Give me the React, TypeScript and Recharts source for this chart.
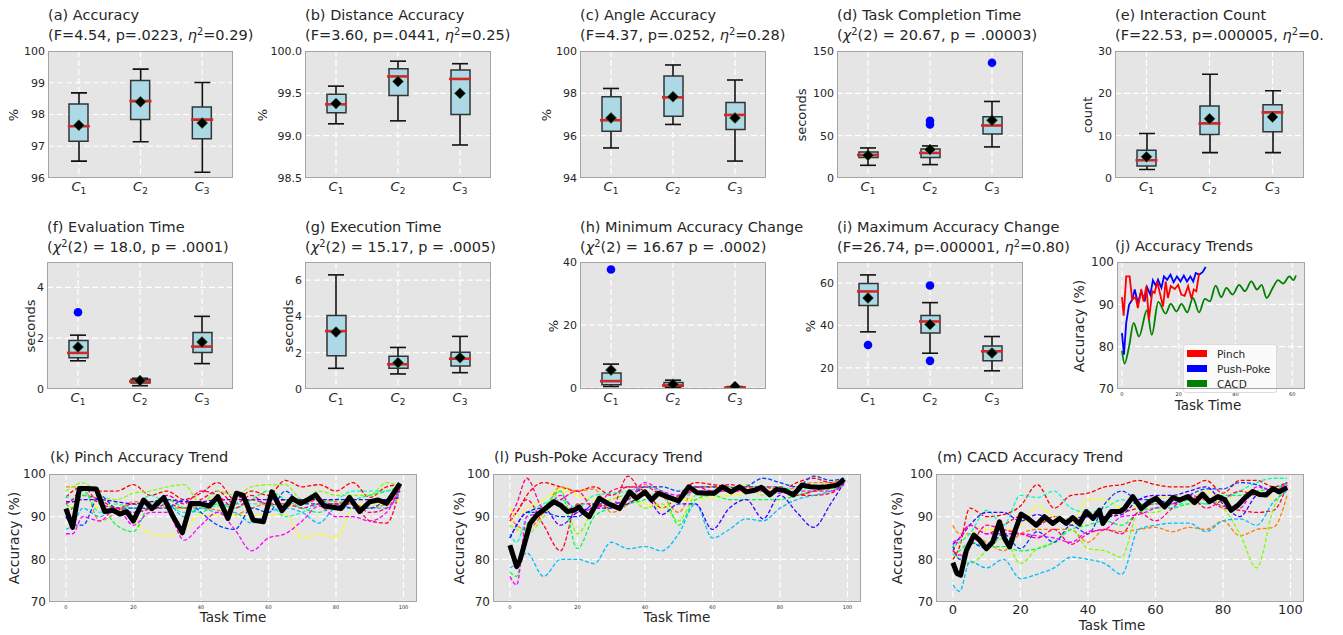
import React from 'react';
import {
  ComposedChart,
  LineChart,
  Line,
  Bar,
  Scatter,
  XAxis,
  YAxis,
  CartesianGrid,
  Legend,
} from 'recharts';

const FONT = '"DejaVu Sans", Verdana, sans-serif';
const INK = '#262626';
const BG = '#e5e5e5';
const EDGE = '#a3a3a3';
const YW = 44;
const PAD = 6;
const XH = 26;

const CATS = ['C1', 'C2', 'C3'];

// [low whisker, q1, median, q3, high whisker, mean] for C1..C3
const accuracyBox = [
  [96.53, 97.16, 97.63, 98.33, 98.68, 97.66],
  [97.14, 97.84, 98.42, 99.07, 99.43, 98.4],
  [96.18, 97.24, 97.84, 98.24, 99.01, 97.73],
];
const distanceBox = [
  [99.14, 99.27, 99.37, 99.49, 99.585, 99.38],
  [99.175, 99.475, 99.7, 99.79, 99.88, 99.64],
  [98.89, 99.25, 99.67, 99.775, 99.85, 99.5],
];
const angleBox = [
  [95.42, 96.21, 96.73, 97.84, 98.23, 96.84],
  [96.53, 96.92, 97.81, 98.82, 99.34, 97.84],
  [94.8, 96.29, 96.98, 97.57, 98.63, 96.84],
];
const taskTimeBox = [
  [15.0, 24.1, 27.2, 30.8, 35.5, 26.8],
  [15.8, 24.1, 29.6, 34.3, 37.9, 33.6],
  [36.7, 52.1, 62.0, 72.2, 90.4, 68.3],
];
const taskTimeOut = [[], [67.5, 63.2], [136.2]];
const interactionBox = [
  [2.0, 2.84, 4.2, 6.55, 10.5, 5.0],
  [6.0, 10.3, 12.9, 17.0, 24.5, 14.0],
  [6.0, 10.9, 15.5, 17.3, 20.6, 14.4],
];
const evalBox = [
  [1.11, 1.23, 1.42, 1.91, 2.12, 1.65],
  [0.13, 0.24, 0.3, 0.38, 0.42, 0.33],
  [1.0, 1.44, 1.67, 2.22, 2.86, 1.85],
];
const evalOut = [[3.02], [], []];
const execBox = [
  [1.14, 1.83, 3.19, 4.05, 6.29, 3.14],
  [0.83, 1.14, 1.36, 1.8, 2.29, 1.45],
  [0.9, 1.27, 1.67, 2.02, 2.9, 1.72],
];
const minChangeBox = [
  [0.5, 1.06, 2.2, 4.8, 7.6, 5.7],
  [0.2, 0.5, 0.85, 1.8, 2.5, 1.2],
  [0.0, 0.0, 0.1, 0.3, 0.45, 0.5],
];
const minChangeOut = [[37.6], [], []];
const maxChangeBox = [
  [37.0, 49.4, 56.1, 59.8, 63.9, 52.97],
  [26.9, 36.4, 41.9, 44.7, 50.8, 40.5],
  [18.6, 23.3, 27.8, 30.3, 34.8, 27.0],
];
const maxChangeOut = [[30.8], [58.9, 23.3], []];

// (j) overall trends
const pinchTrendX = [0, 0.6, 1.5, 2.7, 3.6, 4.8, 5.6, 6.8, 7.6, 8.6, 9.5, 10.7, 11.5, 12.5, 13.3, 14.5, 15.4, 16.2, 17.2, 18.6, 19.8, 20.9, 22.1, 23.3, 24.5, 25.3, 26.2, 27.2];
const pinchTrendY = [91.7, 87.3, 96.6, 96.6, 91.1, 91.7, 89.1, 93.5, 90.7, 94.3, 86.4, 93.1, 92.7, 95.4, 92.8, 89.5, 95.4, 91.5, 94.3, 93.6, 94.6, 92.3, 92, 94.3, 91.3, 93.5, 93.1, 97.4];
const pokeTrendX = [0, 0.7, 1.5, 2.5, 3.6, 4.5, 5.6, 6.8, 8, 8.8, 10, 10.9, 11.9, 12.7, 13.9, 14.8, 15.9, 17.1, 18.2, 19.4, 20.6, 21.8, 22.9, 24.1, 25.1, 26, 27.2, 28.4, 29.5];
const pokeTrendY = [83.2, 78.1, 85.6, 89.9, 91.1, 93.5, 90.3, 93.1, 90.7, 94.1, 92.3, 95.7, 94.4, 95.8, 93.9, 96.6, 95.8, 97, 95.2, 96.6, 95.4, 96.8, 95.4, 96.6, 95.4, 97.4, 97, 97.6, 98.8];
const cacdTrendX = [0, 0.9, 2.5, 4.1, 6, 8.8, 10.5, 12.8, 15.4, 17.2, 19.2, 21, 23, 25, 27.2, 29.2, 31, 33, 35, 36.8, 39, 41.3, 43.3, 45.6, 47.6, 49.2, 51, 53.3, 55, 56.8, 59, 60.4, 61.3];
const cacdTrendY = [79, 76, 80, 85.6, 82.4, 88.6, 82.8, 90.6, 87.8, 90.1, 88.3, 90.1, 88.1, 91.5, 88.1, 91.3, 90.7, 94.4, 91.7, 93.9, 92.3, 94.6, 93.1, 95.4, 93.5, 94.6, 91.5, 94.1, 95.7, 94.9, 96.6, 95.7, 96.8];
const LEGEND_ORDER = ['Pinch', 'Push-Poke', 'CACD'];

// per-participant curves, sampled at RUN_X
const RUN_X = [0, 2, 5, 10, 15, 20, 25, 30, 35, 40, 45, 50, 55, 60, 65, 70, 75, 80, 85, 90, 95, 99];
const RUN_COLORS = ['#ff0000', '#ff0033', '#ff8000', '#ffff00', '#80ff00', '#00ff40', '#00ffbf', '#00bfff', '#0040ff', '#4000ff', '#ff00ff', '#ff0080'];

const pinchRuns = [
  [94.5, 96, 97, 96, 96, 97.5, 95, 96, 94, 95.5, 98, 94, 96, 95, 98.5, 97, 97.5, 96, 98, 94.5, 97, 97.5],
  [91, 92, 95, 94, 92, 93, 91.5, 93, 92, 94, 96, 93, 95, 92.5, 94, 93, 94, 92.5, 93, 89, 88.5, 97],
  [97, 97, 97, 89, 91, 93.5, 93.5, 92, 92, 92, 91.5, 90.5, 92, 93, 92.5, 93, 94, 93.5, 93, 92, 93, 96],
  [91, 93, 96, 92, 93, 89, 86, 85.5, 87, 90.5, 90.5, 90.5, 90.5, 90.5, 90.5, 85, 86, 85, 92, 93, 93, 94],
  [96, 97, 98, 95, 94, 95.5, 96, 97, 97.5, 93, 96, 95, 97, 97.5, 97.5, 94, 96, 95, 95, 95, 98, 97],
  [93, 92, 95, 93, 88, 86.5, 93, 94, 92, 91, 93, 92, 94, 96, 94, 92, 91, 93, 94, 95, 96, 97],
  [95, 94, 96, 91, 93, 92, 95, 93, 91, 92, 92.5, 93, 93, 93, 90, 91, 93, 94, 96, 96, 96, 97],
  [87, 88, 92, 90, 92, 91, 92, 93, 90, 92, 91, 91, 88.5, 91, 92, 91, 88.5, 92, 92, 92, 92, 96],
  [90, 88, 88, 95, 92, 92, 92, 92, 94, 91, 88, 87, 92, 91, 96, 93, 93, 93, 92, 92, 94, 96],
  [93.5, 93.5, 94, 94, 93.5, 93, 93.5, 94, 93.5, 93.5, 94, 94, 94, 94, 94, 94, 94, 94, 94, 94, 94, 94.5],
  [86, 86, 90, 89, 92, 88, 91, 91, 84.5, 88, 91, 87, 82, 85, 86, 89, 92.5, 90, 90, 89, 91, 97],
  [93, 94, 97, 93, 92, 91, 92, 95, 93, 96, 95, 92, 94, 93, 93, 92, 93, 93, 93, 91, 92, 97],
];
const pokeRuns = [
  [89, 91, 95, 98, 97, 96, 97, 95, 97, 96, 92, 95, 98, 97.5, 97, 96, 96, 96, 98, 99, 98, 98.5],
  [89, 91, 94, 88, 82, 93, 93, 92, 99.5, 95, 95, 94, 97, 97, 97.5, 97, 97, 96, 95, 95, 95.5, 98],
  [90, 88, 87, 91, 97, 96, 96.5, 91, 93, 97.5, 95, 91, 97, 97, 96, 96.5, 97, 96, 97, 98, 98, 98.5],
  [92, 90, 92, 94, 96.5, 95, 94, 93, 94, 93, 92, 94, 94, 94.5, 95, 95.5, 96, 96, 96, 96, 96.5, 97.5],
  [88, 87, 86, 90, 96, 86, 92, 94, 95, 92, 93, 89, 95, 96, 96, 97.5, 95, 97, 95, 96, 96.5, 97],
  [77, 76, 88, 92, 96, 82.5, 90, 92, 93, 94, 96, 88, 94, 95, 94, 94, 94, 94, 95, 96, 97, 98],
  [86, 84, 90, 93, 94, 92, 95, 95.5, 96, 97, 96, 94, 96, 96, 97, 97, 97, 97, 96, 97, 97, 98],
  [78, 79, 81.5, 76, 80, 80, 79, 84, 82.5, 83, 82, 86, 93, 85, 87, 89.5, 89, 92, 94, 95, 96, 97.5],
  [85, 88, 91, 91, 90, 90, 93, 93, 94, 97, 97, 96, 97, 97, 96, 97, 99, 98, 97, 99.5, 98.5, 99],
  [85, 88, 91, 92, 88, 91, 92, 92, 93, 95, 90.5, 93, 93, 87, 92, 94, 89.5, 95, 91, 87.5, 93, 98],
  [76, 74, 90, 91, 95, 91, 92, 93, 94, 98, 96, 95, 96, 96, 96, 96, 96, 95.5, 96, 96, 96, 97.5],
  [90, 93, 99, 92, 94, 96, 92, 96, 97, 97, 95, 94, 97, 96, 96, 97, 97, 97, 95, 96, 97, 98],
];
const cacdRuns = [
  [80, 83, 92, 90, 90.5, 92.5, 97.5, 92, 95, 95.5, 97, 97.5, 98.5, 97.5, 97, 97, 98.5, 95.5, 98.5, 98.5, 97, 98],
  [82, 85, 88, 86, 88, 90, 88, 90, 88, 90, 90, 91, 92, 93, 93, 94, 94, 92, 91.5, 91, 91.5, 97.5],
  [88, 86, 86, 84, 82, 86, 87, 87, 87, 84, 87, 86.5, 87, 87.5, 86.5, 87.5, 87, 89, 85.5, 87, 87.5, 95],
  [83, 84, 86, 87, 87, 88, 92.5, 90, 88.5, 94, 94, 92, 92.5, 94, 95, 94, 96, 93, 96, 96, 94, 97],
  [82, 80, 79, 82, 85, 79, 82.5, 84, 87, 82.5, 82, 80.5, 91, 91, 93, 93, 94, 92, 86, 78, 92, 97],
  [81, 82, 84, 83, 83, 82, 82.5, 84, 87, 88, 89, 88, 91, 92, 92, 93, 93, 95, 95, 96, 96.5, 98],
  [83, 84, 86, 91.5, 88, 95, 94.5, 96, 92, 91, 92, 94, 93, 93, 92, 94, 93, 94, 96, 98, 99, 99],
  [74, 72.5, 79.5, 78, 80, 75.5, 76.5, 78, 80.5, 80, 79, 76.5, 87, 88, 88.5, 88.5, 86.5, 89, 89.5, 88, 93.5, 96],
  [83, 80, 84, 82.5, 86, 82.5, 86.5, 84, 88, 86, 93, 96, 94, 94, 93, 95, 96.5, 96.5, 98, 97.5, 96, 98],
  [83.5, 85, 88, 91, 91, 89, 90.5, 89, 89.5, 90, 90, 90.5, 94, 95, 95, 96, 97, 93, 90, 95, 96, 97],
  [84, 85, 88, 86, 86, 86, 85.5, 85, 84, 86.5, 87, 90, 90.5, 92, 93, 95, 94, 92.5, 92, 97, 96, 98],
  [82, 81, 83, 88, 87, 86, 85, 87, 83.5, 86, 87, 86, 91, 89, 92, 95, 92, 94, 96, 95, 96, 97],
];

// mean curves (black)
const pinchMeanX = [0, 2, 4, 6, 9, 11.5, 14, 16, 18, 20, 23, 25.5, 29, 31.5, 34.5, 37, 40, 42.5, 45, 48, 50.5, 52.5, 55.5, 58.5, 61, 64, 67, 69.5, 71.5, 74, 76.5, 79, 81.5, 84, 87, 90, 92.5, 95, 99];
const pinchMeanY = [91.9, 87.5, 96.6, 96.6, 96.5, 91.2, 91.5, 90.6, 91.2, 89, 93.9, 91.9, 94.5, 90.4, 86.2, 93.1, 93, 92.5, 94.7, 89.6, 95.5, 95, 89.2, 88.8, 95.8, 91.4, 94.3, 93.1, 93.9, 95.1, 92.5, 92.2, 91.9, 94.5, 91.2, 93.5, 93.9, 93.1, 97.8];
const pokeMeanX = [0, 2, 3, 6, 8, 10.5, 13, 15, 17, 19, 20.5, 21.5, 23.5, 26.5, 29, 32.5, 35.5, 37.5, 40, 42, 44, 46.5, 50, 53, 55.5, 58, 60.5, 63, 65.5, 68, 70, 72.5, 74.5, 77, 79, 81.5, 84, 86.5, 89, 91.5, 94, 97, 99];
const pokeMeanY = [83.3, 78.3, 79.8, 88.4, 90.4, 91.9, 93.5, 92.7, 91.2, 91.5, 92.3, 91.2, 90, 94.3, 93.1, 91.9, 95.8, 94.3, 95.8, 93.9, 95.5, 94.7, 93.7, 97, 95.6, 95.5, 95.5, 97, 95.8, 97, 95.8, 96.2, 96.9, 95.1, 96.4, 96.1, 95.1, 97.4, 97, 96.9, 97, 97.4, 98.8];
const cacdMeanX = [0, 1.2, 2.3, 4, 6.2, 7.9, 9.9, 11.8, 13.8, 15.3, 16.8, 18.3, 20.2, 22.2, 24.7, 27.1, 29.6, 31.6, 33.6, 35.5, 37.5, 39.5, 41.5, 43.4, 44.4, 46.9, 49.4, 50.8, 53.3, 55.8, 58.2, 60.2, 62.7, 65.2, 67.1, 69.6, 71.6, 74, 76, 78.5, 80.5, 82.4, 84.4, 86.9, 88.8, 90.8, 92.8, 94.8, 96.7, 99];
const cacdMeanY = [79.2, 76.7, 76.3, 82.1, 85.7, 84.5, 82.5, 84.1, 88.8, 84.9, 82.9, 86.5, 90.6, 89.6, 88, 90, 88.4, 89.6, 88.4, 89.8, 88.3, 91.2, 89.6, 91.5, 88.4, 91.2, 91.2, 91.9, 94.7, 91.9, 93.5, 94.3, 92.3, 94.5, 93.9, 94.7, 93.3, 95.3, 93.5, 94.7, 94, 91.5, 92.7, 94.7, 95.9, 95.2, 95.1, 96.6, 95.8, 96.8];

const SUP: React.CSSProperties = { fontSize: '0.68em', lineHeight: 0, verticalAlign: '0.55em' };
const Eta = () => (
  <>
    <i>η</i>
    <sup style={SUP}>2</sup>
  </>
);
const Chi = () => (
  <>
    <i>χ</i>
    <sup style={SUP}>2</sup>
  </>
);

const pts = (xs: number[], ys: number[]) => xs.map((x, i) => ({ x, y: ys[i] }));

const Whisker = (p: any) => {
  const { x, y, width, height } = p;
  if (x == null || y == null) return null;
  const top = Math.min(y, y + height);
  const bot = Math.max(y, y + height);
  const cx = x + width / 2;
  return (
    <g stroke="#111" strokeWidth={1.6}>
      <line x1={cx} x2={cx} y1={top} y2={bot} />
      <line x1={x} x2={x + width} y1={top} y2={top} />
      <line x1={x} x2={x + width} y1={bot} y2={bot} />
    </g>
  );
};
const Median = (p: any) => (
  <line x1={p.cx - 11} x2={p.cx + 11} y1={p.cy} y2={p.cy} stroke="#d62728" strokeWidth={2.6} />
);
const Mean = (p: any) => {
  const s = 5.5;
  return (
    <polygon
      points={`${p.cx},${p.cy - s} ${p.cx + s},${p.cy} ${p.cx},${p.cy + s} ${p.cx - s},${p.cy}`}
      fill="#000"
      stroke="#2e7d32"
      strokeWidth={0.6}
    />
  );
};
const Outlier = (p: any) => <circle cx={p.cx} cy={p.cy} r={4.3} fill="#0000ff" />;

const CatTick = (p: any) => (
  <text x={p.x} y={p.y} textAnchor="middle" fontFamily={FONT} fill={INK}>
    <tspan dy={13} fontSize={13} fontStyle="italic">C</tspan>
    <tspan dy={3} fontSize={9}>{String(p.payload.value).slice(1)}</tspan>
  </text>
);

const Title = ({ x, y, children }: { x: number; y: number; children: React.ReactNode }) => (
  <div
    style={{
      position: 'absolute',
      left: x,
      top: y,
      fontSize: 14.5,
      lineHeight: '20px',
      whiteSpace: 'nowrap',
      color: INK,
    }}
  >
    {children}
  </div>
);

const YLabel = ({ x, y, text, size }: { x: number; y: number; text: string; size: number }) => (
  <div
    style={{
      position: 'absolute',
      left: x,
      top: y,
      transform: 'translate(-50%, -50%) rotate(-90deg)',
      fontSize: size,
      whiteSpace: 'nowrap',
      color: INK,
    }}
  >
    {text}
  </div>
);

const XLabel = ({ x, y, text }: { x: number; y: number; text: string }) => (
  <div
    style={{
      position: 'absolute',
      left: x,
      top: y,
      transform: 'translate(-50%, -50%)',
      fontSize: 13.5,
      whiteSpace: 'nowrap',
      color: INK,
    }}
  >
    {text}
  </div>
);

const Frame = ({ rect }: { rect: number[] }) => (
  <div
    style={{
      position: 'absolute',
      left: rect[0],
      top: rect[1],
      width: rect[2] - rect[0],
      height: rect[3] - rect[1],
      border: `1px solid ${EDGE}`,
      boxSizing: 'border-box',
      pointerEvents: 'none',
    }}
  />
);

type BoxCfg = {
  rect: number[];
  titleY: number;
  head: React.ReactNode;
  stat: React.ReactNode;
  labelX: number;
  label: string;
  stats: number[][];
  out?: number[][];
  domain: number[];
  ticks: number[];
  digits?: number;
};

const BOX_PANELS: BoxCfg[] = [
  { rect: [48, 51, 233, 178], titleY: 5, head: '(a) Accuracy', stat: <>(F=4.54, p=.0223, <Eta />=0.29)</>, labelX: 13, label: '%', stats: accuracyBox, domain: [96, 100], ticks: [96, 97, 98, 99, 100] },
  { rect: [305, 51, 491, 178], titleY: 5, head: '(b) Distance Accuracy', stat: <>(F=3.60, p=.0441, <Eta />=0.25)</>, labelX: 262, label: '%', stats: distanceBox, domain: [98.5, 100], ticks: [98.5, 99, 99.5, 100], digits: 1 },
  { rect: [580, 51, 766, 178], titleY: 5, head: '(c) Angle Accuracy', stat: <>(F=4.37, p=.0252, <Eta />=0.28)</>, labelX: 546, label: '%', stats: angleBox, domain: [94, 100], ticks: [94, 96, 98, 100] },
  { rect: [837, 51, 1023, 178], titleY: 5, head: '(d) Task Completion Time', stat: <>(<Chi />(2) = 20.67, p = .00003)</>, labelX: 801, label: 'seconds', stats: taskTimeBox, out: taskTimeOut, domain: [0, 150], ticks: [0, 50, 100, 150] },
  { rect: [1115, 51, 1304, 178], titleY: 5, head: '(e) Interaction Count', stat: <>(F=22.53, p=.000005, <Eta />=0.</>, labelX: 1087, label: 'count', stats: interactionBox, domain: [0, 30], ticks: [0, 10, 20, 30] },
  { rect: [47, 262, 233, 389], titleY: 217, head: '(f) Evaluation Time', stat: <>(<Chi />(2) = 18.0, p = .0001)</>, labelX: 30, label: 'seconds', stats: evalBox, out: evalOut, domain: [0, 5], ticks: [0, 2, 4] },
  { rect: [305, 262, 491, 389], titleY: 217, head: '(g) Execution Time', stat: <>(<Chi />(2) = 15.17, p = .0005)</>, labelX: 288, label: 'seconds', stats: execBox, domain: [0, 7], ticks: [0, 2, 4, 6] },
  { rect: [580, 262, 766, 389], titleY: 217, head: '(h) Minimum Accuracy Change', stat: <>(<Chi />(2) = 16.67 p = .0002)</>, labelX: 553, label: '%', stats: minChangeBox, out: minChangeOut, domain: [-0.3, 40], ticks: [0, 20, 40] },
  { rect: [837, 262, 1023, 389], titleY: 217, head: '(i) Maximum Accuracy Change', stat: <>(F=26.74, p=.000001, <Eta />=0.80)</>, labelX: 810, label: '%', stats: maxChangeBox, out: maxChangeOut, domain: [10, 70], ticks: [20, 40, 60] },
];

function BoxPanel({ cfg }: { cfg: BoxCfg }) {
  const [x0, y0, x1, y1] = cfg.rect;
  const w = x1 - x0;
  const h = y1 - y0;
  const rows = CATS.map((name, i) => {
    const s = cfg.stats[i];
    return { name, whisker: [s[0], s[4]], box: [s[1], s[3]], median: s[2], mean: s[5] };
  });
  const outs = (cfg.out || [[], [], []]).flatMap((vals, i) => vals.map((v) => ({ name: CATS[i], value: v })));
  const fmt = (v: number) => (cfg.digits ? v.toFixed(cfg.digits) : String(v));
  return (
    <>
      <Title x={x0} y={cfg.titleY}>
        <div>{cfg.head}</div>
        <div>{cfg.stat}</div>
      </Title>
      <YLabel x={cfg.labelX} y={(y0 + y1) / 2} text={cfg.label} size={13} />
      <div style={{ position: 'absolute', left: x0 - YW, top: y0 - PAD }}>
        <ComposedChart
          width={w + YW + PAD}
          height={h + PAD + XH}
          data={rows}
          margin={{ top: PAD, right: PAD, bottom: 0, left: 0 }}
        >
          <CartesianGrid fill={BG} stroke="#fff" strokeDasharray="6 3" strokeWidth={1.2} />
          <XAxis
            dataKey="name"
            allowDuplicatedCategory={false}
            axisLine={false}
            tickLine={false}
            tickSize={0}
            tickMargin={0}
            height={XH}
            interval={0}
            tick={<CatTick />}
          />
          <XAxis xAxisId="w" dataKey="name" allowDuplicatedCategory={false} hide />
          <YAxis
            type="number"
            width={YW}
            domain={cfg.domain}
            ticks={cfg.ticks}
            allowDataOverflow
            interval={0}
            axisLine={false}
            tickLine={false}
            tickSize={0}
            tickMargin={3}
            tickFormatter={fmt}
            tick={{ fontSize: 11, fill: INK, fontFamily: FONT }}
          />
          <Bar xAxisId="w" dataKey="whisker" barSize={16} shape={Whisker} isAnimationActive={false} />
          <Bar dataKey="box" barSize={19} fill="#add8e6" stroke="#333" strokeWidth={1.5} isAnimationActive={false} />
          <Scatter dataKey="median" shape={Median} isAnimationActive={false} />
          <Scatter dataKey="mean" shape={Mean} isAnimationActive={false} />
          {outs.length > 0 && (
            <Scatter data={outs} dataKey="value" shape={Outlier} isAnimationActive={false} />
          )}
        </ComposedChart>
      </div>
      <Frame rect={cfg.rect} />
    </>
  );
}

type TrendCfg = {
  rect: number[];
  head: string;
  labelX: number;
  xlabel: number[];
  runs: number[][];
  meanX: number[];
  meanY: number[];
  tickFont: number;
};

const TREND_PANELS: TrendCfg[] = [
  { rect: [49, 474, 417, 602], head: '(k) Pinch Accuracy Trend', labelX: 14, xlabel: [233, 617], runs: pinchRuns, meanX: pinchMeanX, meanY: pinchMeanY, tickFont: 5 },
  { rect: [493, 474, 861, 602], head: '(l) Push-Poke Accuracy Trend', labelX: 459, xlabel: [677, 617], runs: pokeRuns, meanX: pokeMeanX, meanY: pokeMeanY, tickFont: 5 },
  { rect: [936, 474, 1304, 602], head: '(m) CACD Accuracy Trend', labelX: 897, xlabel: [1112, 625], runs: cacdRuns, meanX: cacdMeanX, meanY: cacdMeanY, tickFont: 13 },
];

function TrendPanel({ cfg }: { cfg: TrendCfg }) {
  const [x0, y0, x1, y1] = cfg.rect;
  const w = x1 - x0;
  const h = y1 - y0;
  return (
    <>
      <Title x={x0 + 1} y={447}>{cfg.head}</Title>
      <YLabel x={cfg.labelX} y={(y0 + y1) / 2} text="Accuracy (%)" size={14} />
      <XLabel x={cfg.xlabel[0]} y={cfg.xlabel[1]} text="Task Time" />
      <div style={{ position: 'absolute', left: x0 - YW, top: y0 - PAD }}>
        <LineChart width={w + YW + PAD} height={h + PAD + XH} margin={{ top: PAD, right: PAD, bottom: 0, left: 0 }}>
          <CartesianGrid fill={BG} stroke="#fff" strokeDasharray="6 3" strokeWidth={1.2} />
          <XAxis
            type="number"
            dataKey="x"
            domain={[-5, 104]}
            ticks={[0, 20, 40, 60, 80, 100]}
            allowDataOverflow
            interval={0}
            axisLine={false}
            tickLine={false}
            tickSize={0}
            tickMargin={3}
            height={XH}
            tick={{ fontSize: cfg.tickFont, fill: INK, fontFamily: FONT }}
          />
          <YAxis
            type="number"
            width={YW}
            domain={[70, 100]}
            ticks={[70, 80, 90, 100]}
            allowDataOverflow
            interval={0}
            axisLine={false}
            tickLine={false}
            tickSize={0}
            tickMargin={3}
            tick={{ fontSize: 12, fill: INK, fontFamily: FONT }}
          />
          {cfg.runs.map((r, i) => (
            <Line
              key={i}
              data={pts(RUN_X, r)}
              dataKey="y"
              type="monotone"
              stroke={RUN_COLORS[i]}
              strokeWidth={1.3}
              strokeDasharray="4 2"
              dot={false}
              isAnimationActive={false}
            />
          ))}
          <Line
            data={pts(cfg.meanX, cfg.meanY)}
            dataKey="y"
            type="linear"
            stroke="#000"
            strokeWidth={5}
            strokeLinejoin="round"
            dot={false}
            isAnimationActive={false}
          />
        </LineChart>
      </div>
      <Frame rect={cfg.rect} />
    </>
  );
}

const TrendLegend = ({ payload }: any) => {
  const items = [...(payload || [])].sort(
    (a: any, b: any) => LEGEND_ORDER.indexOf(a.value) - LEGEND_ORDER.indexOf(b.value),
  );
  return (
    <div
      style={{
        background: 'rgba(255,255,255,0.8)',
        border: '1px solid #dcdcdc',
        borderRadius: 3,
        padding: '1px 6px 1px 3px',
        fontFamily: FONT,
        fontSize: 10.5,
        color: INK,
      }}
    >
      {items.map((e: any) => (
        <div key={e.value} style={{ display: 'flex', alignItems: 'center', height: 15 }}>
          <span style={{ display: 'inline-block', width: 20, height: 7, background: e.color, marginRight: 10 }} />
          <span>{e.value}</span>
        </div>
      ))}
    </div>
  );
};

function OverallTrend() {
  const rect = [1117, 262, 1305, 389];
  const [x0, y0, x1, y1] = rect;
  const w = x1 - x0;
  const h = y1 - y0;
  return (
    <>
      <Title x={1115} y={236}>(j) Accuracy Trends</Title>
      <YLabel x={1079} y={(y0 + y1) / 2} text="Accuracy (%)" size={14} />
      <XLabel x={1208} y={405} text="Task Time" />
      <div style={{ position: 'absolute', left: x0 - YW, top: y0 - PAD }}>
        <LineChart width={w + YW + PAD} height={h + PAD + XH} margin={{ top: PAD, right: PAD, bottom: 0, left: 0 }}>
          <CartesianGrid fill={BG} stroke="#fff" strokeDasharray="6 3" strokeWidth={1.2} />
          <XAxis
            type="number"
            dataKey="x"
            domain={[-1.75, 64.5]}
            ticks={[0, 20, 40, 60]}
            allowDataOverflow
            interval={0}
            axisLine={false}
            tickLine={false}
            tickSize={0}
            tickMargin={3}
            height={XH}
            tick={{ fontSize: 5, fill: INK, fontFamily: FONT }}
          />
          <YAxis
            type="number"
            width={YW}
            domain={[70, 100]}
            ticks={[70, 80, 90, 100]}
            allowDataOverflow
            interval={0}
            axisLine={false}
            tickLine={false}
            tickSize={0}
            tickMargin={3}
            tick={{ fontSize: 12, fill: INK, fontFamily: FONT }}
          />
          <Line name="CACD" data={pts(cacdTrendX, cacdTrendY)} dataKey="y" type="monotone" stroke="#008000" strokeWidth={1.8} dot={false} isAnimationActive={false} />
          <Line name="Push-Poke" data={pts(pokeTrendX, pokeTrendY)} dataKey="y" type="linear" stroke="#0000ff" strokeWidth={1.8} dot={false} isAnimationActive={false} />
          <Line name="Pinch" data={pts(pinchTrendX, pinchTrendY)} dataKey="y" type="linear" stroke="#ff0000" strokeWidth={1.8} dot={false} isAnimationActive={false} />
          <Legend
            layout="vertical"
            align="center"
            verticalAlign="middle"
            content={<TrendLegend />}
            wrapperStyle={{ left: 110, top: 88, width: 'auto', height: 'auto' }}
          />
        </LineChart>
      </div>
      <Frame rect={rect} />
    </>
  );
}

export default function App() {
  return (
    <div
      style={{
        position: 'absolute',
        left: 0,
        top: 0,
        width: 1343,
        height: 635,
        overflow: 'hidden',
        background: '#fff',
        fontFamily: FONT,
      }}
    >
      {BOX_PANELS.map((cfg, i) => (
        <BoxPanel key={i} cfg={cfg} />
      ))}
      <OverallTrend />
      {TREND_PANELS.map((cfg, i) => (
        <TrendPanel key={i} cfg={cfg} />
      ))}
    </div>
  );
}
